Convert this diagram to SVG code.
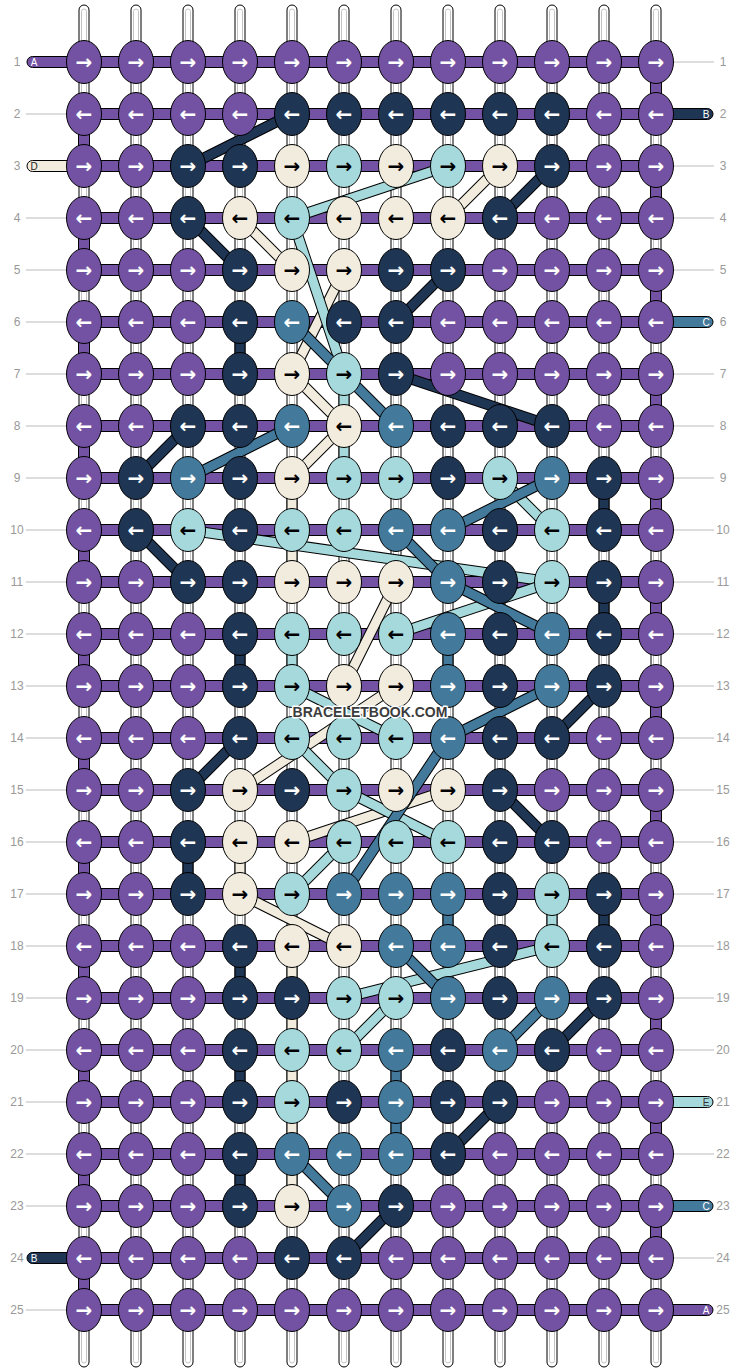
<svg xmlns="http://www.w3.org/2000/svg" width="740" height="1372" viewBox="0 0 740 1372">
<style>
.warp rect.o1{fill:#fff;stroke:#000;stroke-width:1}
.warp rect.i1{fill:none;stroke:#c4c4c4;stroke-width:1}
.bar{fill:#7452a3;stroke:#000;stroke-width:1}
.gl{stroke:#bbb;stroke-width:1}
.num{font-family:"Liberation Sans",Arial,sans-serif;font-size:12px;fill:#999;text-anchor:middle}
.pl{font-family:"Liberation Sans",Arial,sans-serif;font-size:10px;text-anchor:middle}
.pill{stroke:#000;stroke-width:1}
.fP{fill:#7452a3}.fN{fill:#1e3554}.fC{fill:#f1ecde}.fL{fill:#a6d9db}.fS{fill:#437a9b}
.conn line{fill:none;stroke-linecap:butt}
.conn .o{stroke:#000;stroke-width:11}
.conn .N{stroke:#1e3554;stroke-width:9}
.conn .C{stroke:#f1ecde;stroke-width:9}
.conn .L{stroke:#a6d9db;stroke-width:9}
.conn .S{stroke:#437a9b;stroke-width:9}
.nodes ellipse{stroke:#000;stroke-width:1}
.nodes .P ellipse{fill:#7452a3}
.nodes .N ellipse{fill:#1e3554}
.nodes .C ellipse{fill:#f1ecde}
.nodes .L ellipse{fill:#a6d9db}
.nodes .S ellipse{fill:#437a9b}
.nodes text{font-family:"DejaVu Sans",sans-serif;font-weight:bold;font-size:20px;text-anchor:middle;fill:#fff}
.nodes .C text,.nodes .L text{fill:#000}
.wm{font-family:"Liberation Sans",Arial,sans-serif;font-weight:bold;font-size:14px;text-anchor:middle;fill:#3c3c3c;stroke:#fff;stroke-width:3;stroke-linejoin:round;paint-order:stroke}
</style>
<rect width="740" height="1372" fill="#fff"/>
<g id="warps" class="warp">
<rect class="o1" x="79" y="5" width="10" height="1362" rx="5"/><rect class="i1" x="81.5" y="9" width="5" height="1354" rx="2.5"/>
<rect class="o1" x="131" y="5" width="10" height="1362" rx="5"/><rect class="i1" x="133.5" y="9" width="5" height="1354" rx="2.5"/>
<rect class="o1" x="183" y="5" width="10" height="1362" rx="5"/><rect class="i1" x="185.5" y="9" width="5" height="1354" rx="2.5"/>
<rect class="o1" x="235" y="5" width="10" height="1362" rx="5"/><rect class="i1" x="237.5" y="9" width="5" height="1354" rx="2.5"/>
<rect class="o1" x="287" y="5" width="10" height="1362" rx="5"/><rect class="i1" x="289.5" y="9" width="5" height="1354" rx="2.5"/>
<rect class="o1" x="339" y="5" width="10" height="1362" rx="5"/><rect class="i1" x="341.5" y="9" width="5" height="1354" rx="2.5"/>
<rect class="o1" x="391" y="5" width="10" height="1362" rx="5"/><rect class="i1" x="393.5" y="9" width="5" height="1354" rx="2.5"/>
<rect class="o1" x="443" y="5" width="10" height="1362" rx="5"/><rect class="i1" x="445.5" y="9" width="5" height="1354" rx="2.5"/>
<rect class="o1" x="495" y="5" width="10" height="1362" rx="5"/><rect class="i1" x="497.5" y="9" width="5" height="1354" rx="2.5"/>
<rect class="o1" x="547" y="5" width="10" height="1362" rx="5"/><rect class="i1" x="549.5" y="9" width="5" height="1354" rx="2.5"/>
<rect class="o1" x="599" y="5" width="10" height="1362" rx="5"/><rect class="i1" x="601.5" y="9" width="5" height="1354" rx="2.5"/>
<rect class="o1" x="651" y="5" width="10" height="1362" rx="5"/><rect class="i1" x="653.5" y="9" width="5" height="1354" rx="2.5"/>
</g>
<g id="labels">
<line class="gl" x1="26" y1="114" x2="67" y2="114"/><line class="gl" x1="26" y1="218" x2="67" y2="218"/><line class="gl" x1="26" y1="270" x2="67" y2="270"/><line class="gl" x1="26" y1="322" x2="67" y2="322"/><line class="gl" x1="26" y1="374" x2="67" y2="374"/><line class="gl" x1="26" y1="426" x2="67" y2="426"/><line class="gl" x1="26" y1="478" x2="67" y2="478"/><line class="gl" x1="26" y1="530" x2="67" y2="530"/><line class="gl" x1="26" y1="582" x2="67" y2="582"/><line class="gl" x1="26" y1="634" x2="67" y2="634"/><line class="gl" x1="26" y1="686" x2="67" y2="686"/><line class="gl" x1="26" y1="738" x2="67" y2="738"/><line class="gl" x1="26" y1="790" x2="67" y2="790"/><line class="gl" x1="26" y1="842" x2="67" y2="842"/><line class="gl" x1="26" y1="894" x2="67" y2="894"/><line class="gl" x1="26" y1="946" x2="67" y2="946"/><line class="gl" x1="26" y1="998" x2="67" y2="998"/><line class="gl" x1="26" y1="1050" x2="67" y2="1050"/><line class="gl" x1="26" y1="1102" x2="67" y2="1102"/><line class="gl" x1="26" y1="1154" x2="67" y2="1154"/><line class="gl" x1="26" y1="1206" x2="67" y2="1206"/><line class="gl" x1="26" y1="1310" x2="67" y2="1310"/>
<line class="gl" x1="673" y1="62" x2="714" y2="62"/><line class="gl" x1="673" y1="166" x2="714" y2="166"/><line class="gl" x1="673" y1="218" x2="714" y2="218"/><line class="gl" x1="673" y1="270" x2="714" y2="270"/><line class="gl" x1="673" y1="374" x2="714" y2="374"/><line class="gl" x1="673" y1="426" x2="714" y2="426"/><line class="gl" x1="673" y1="478" x2="714" y2="478"/><line class="gl" x1="673" y1="530" x2="714" y2="530"/><line class="gl" x1="673" y1="582" x2="714" y2="582"/><line class="gl" x1="673" y1="634" x2="714" y2="634"/><line class="gl" x1="673" y1="686" x2="714" y2="686"/><line class="gl" x1="673" y1="738" x2="714" y2="738"/><line class="gl" x1="673" y1="790" x2="714" y2="790"/><line class="gl" x1="673" y1="842" x2="714" y2="842"/><line class="gl" x1="673" y1="894" x2="714" y2="894"/><line class="gl" x1="673" y1="946" x2="714" y2="946"/><line class="gl" x1="673" y1="998" x2="714" y2="998"/><line class="gl" x1="673" y1="1050" x2="714" y2="1050"/><line class="gl" x1="673" y1="1154" x2="714" y2="1154"/><line class="gl" x1="673" y1="1258" x2="714" y2="1258"/>
<text class="num" x="17" y="66">1</text><text class="num" x="17" y="118">2</text><text class="num" x="17" y="170">3</text><text class="num" x="17" y="222">4</text><text class="num" x="17" y="274">5</text><text class="num" x="17" y="326">6</text><text class="num" x="17" y="378">7</text><text class="num" x="17" y="430">8</text><text class="num" x="17" y="482">9</text><text class="num" x="17" y="534">10</text><text class="num" x="17" y="586">11</text><text class="num" x="17" y="638">12</text><text class="num" x="17" y="690">13</text><text class="num" x="17" y="742">14</text><text class="num" x="17" y="794">15</text><text class="num" x="17" y="846">16</text><text class="num" x="17" y="898">17</text><text class="num" x="17" y="950">18</text><text class="num" x="17" y="1002">19</text><text class="num" x="17" y="1054">20</text><text class="num" x="17" y="1106">21</text><text class="num" x="17" y="1158">22</text><text class="num" x="17" y="1210">23</text><text class="num" x="17" y="1262">24</text><text class="num" x="17" y="1314">25</text>
<text class="num" x="723" y="66">1</text><text class="num" x="723" y="118">2</text><text class="num" x="723" y="170">3</text><text class="num" x="723" y="222">4</text><text class="num" x="723" y="274">5</text><text class="num" x="723" y="326">6</text><text class="num" x="723" y="378">7</text><text class="num" x="723" y="430">8</text><text class="num" x="723" y="482">9</text><text class="num" x="723" y="534">10</text><text class="num" x="723" y="586">11</text><text class="num" x="723" y="638">12</text><text class="num" x="723" y="690">13</text><text class="num" x="723" y="742">14</text><text class="num" x="723" y="794">15</text><text class="num" x="723" y="846">16</text><text class="num" x="723" y="898">17</text><text class="num" x="723" y="950">18</text><text class="num" x="723" y="1002">19</text><text class="num" x="723" y="1054">20</text><text class="num" x="723" y="1106">21</text><text class="num" x="723" y="1158">22</text><text class="num" x="723" y="1210">23</text><text class="num" x="723" y="1262">24</text><text class="num" x="723" y="1314">25</text>
</g>
<g id="strings">
<rect class="pill fP" x="27" y="56.5" width="57" height="11" rx="5.5"/>
<rect class="pill fC" x="27" y="160.5" width="57" height="11" rx="5.5"/>
<rect class="pill fN" x="27" y="1252.5" width="57" height="11" rx="5.5"/>
<rect class="pill fN" x="656" y="108.5" width="57" height="11" rx="5.5"/>
<rect class="pill fS" x="656" y="316.5" width="57" height="11" rx="5.5"/>
<rect class="pill fL" x="656" y="1096.5" width="57" height="11" rx="5.5"/>
<rect class="pill fS" x="656" y="1200.5" width="57" height="11" rx="5.5"/>
<rect class="pill fP" x="656" y="1304.5" width="57" height="11" rx="5.5"/>
<rect class="bar" x="650.5" y="62" width="11" height="52"/><rect class="bar" x="650.5" y="166" width="11" height="52"/><rect class="bar" x="650.5" y="270" width="11" height="52"/><rect class="bar" x="650.5" y="374" width="11" height="52"/><rect class="bar" x="650.5" y="478" width="11" height="52"/><rect class="bar" x="650.5" y="582" width="11" height="52"/><rect class="bar" x="650.5" y="686" width="11" height="52"/><rect class="bar" x="650.5" y="790" width="11" height="52"/><rect class="bar" x="650.5" y="894" width="11" height="52"/><rect class="bar" x="650.5" y="998" width="11" height="52"/><rect class="bar" x="650.5" y="1102" width="11" height="52"/><rect class="bar" x="650.5" y="1206" width="11" height="52"/>
<rect class="bar" x="78.5" y="114" width="11" height="52"/><rect class="bar" x="78.5" y="218" width="11" height="52"/><rect class="bar" x="78.5" y="322" width="11" height="52"/><rect class="bar" x="78.5" y="426" width="11" height="52"/><rect class="bar" x="78.5" y="530" width="11" height="52"/><rect class="bar" x="78.5" y="634" width="11" height="52"/><rect class="bar" x="78.5" y="738" width="11" height="52"/><rect class="bar" x="78.5" y="842" width="11" height="52"/><rect class="bar" x="78.5" y="946" width="11" height="52"/><rect class="bar" x="78.5" y="1050" width="11" height="52"/><rect class="bar" x="78.5" y="1154" width="11" height="52"/><rect class="bar" x="78.5" y="1258" width="11" height="52"/>
<rect class="bar" x="84" y="56.5" width="572" height="11"/><rect class="bar" x="84" y="108.5" width="572" height="11"/><rect class="bar" x="84" y="160.5" width="572" height="11"/><rect class="bar" x="84" y="212.5" width="572" height="11"/><rect class="bar" x="84" y="264.5" width="572" height="11"/><rect class="bar" x="84" y="316.5" width="572" height="11"/><rect class="bar" x="84" y="368.5" width="572" height="11"/><rect class="bar" x="84" y="420.5" width="572" height="11"/><rect class="bar" x="84" y="472.5" width="572" height="11"/><rect class="bar" x="84" y="524.5" width="572" height="11"/><rect class="bar" x="84" y="576.5" width="572" height="11"/><rect class="bar" x="84" y="628.5" width="572" height="11"/><rect class="bar" x="84" y="680.5" width="572" height="11"/><rect class="bar" x="84" y="732.5" width="572" height="11"/><rect class="bar" x="84" y="784.5" width="572" height="11"/><rect class="bar" x="84" y="836.5" width="572" height="11"/><rect class="bar" x="84" y="888.5" width="572" height="11"/><rect class="bar" x="84" y="940.5" width="572" height="11"/><rect class="bar" x="84" y="992.5" width="572" height="11"/><rect class="bar" x="84" y="1044.5" width="572" height="11"/><rect class="bar" x="84" y="1096.5" width="572" height="11"/><rect class="bar" x="84" y="1148.5" width="572" height="11"/><rect class="bar" x="84" y="1200.5" width="572" height="11"/><rect class="bar" x="84" y="1252.5" width="572" height="11"/><rect class="bar" x="84" y="1304.5" width="572" height="11"/>
<text class="pl" x="34" y="66" fill="#fff">A</text><text class="pl" x="34" y="170" fill="#222">D</text><text class="pl" x="34" y="1262" fill="#fff">B</text>
<text class="pl" x="706" y="118" fill="#fff">B</text><text class="pl" x="706" y="326" fill="#fff">C</text><text class="pl" x="706" y="1106" fill="#333">E</text><text class="pl" x="706" y="1210" fill="#fff">C</text><text class="pl" x="706" y="1314" fill="#fff">A</text>
</g>
<g id="connectors" class="conn">
<line class="o" x1="292" y1="114" x2="188" y2="166"/><line class="N" x1="292" y1="114" x2="188" y2="166"/>
<line class="o" x1="552" y1="166" x2="500" y2="218"/><line class="N" x1="552" y1="166" x2="500" y2="218"/>
<line class="o" x1="188" y1="218" x2="240" y2="270"/><line class="N" x1="188" y1="218" x2="240" y2="270"/>
<line class="o" x1="448" y1="270" x2="396" y2="322"/><line class="N" x1="448" y1="270" x2="396" y2="322"/>
<line class="o" x1="240" y1="322" x2="240" y2="374"/><line class="N" x1="240" y1="322" x2="240" y2="374"/>
<line class="o" x1="396" y1="374" x2="552" y2="426"/><line class="N" x1="396" y1="374" x2="552" y2="426"/>
<line class="o" x1="188" y1="426" x2="136" y2="478"/><line class="N" x1="188" y1="426" x2="136" y2="478"/>
<line class="o" x1="136" y1="530" x2="188" y2="582"/><line class="N" x1="136" y1="530" x2="188" y2="582"/>
<line class="o" x1="604" y1="478" x2="604" y2="530"/><line class="N" x1="604" y1="478" x2="604" y2="530"/>
<line class="o" x1="604" y1="582" x2="604" y2="634"/><line class="N" x1="604" y1="582" x2="604" y2="634"/>
<line class="o" x1="240" y1="634" x2="240" y2="686"/><line class="N" x1="240" y1="634" x2="240" y2="686"/>
<line class="o" x1="604" y1="686" x2="552" y2="738"/><line class="N" x1="604" y1="686" x2="552" y2="738"/>
<line class="o" x1="240" y1="738" x2="188" y2="790"/><line class="N" x1="240" y1="738" x2="188" y2="790"/>
<line class="o" x1="500" y1="790" x2="552" y2="842"/><line class="N" x1="500" y1="790" x2="552" y2="842"/>
<line class="o" x1="188" y1="842" x2="188" y2="894"/><line class="N" x1="188" y1="842" x2="188" y2="894"/>
<line class="o" x1="604" y1="894" x2="604" y2="946"/><line class="N" x1="604" y1="894" x2="604" y2="946"/>
<line class="o" x1="240" y1="946" x2="240" y2="998"/><line class="N" x1="240" y1="946" x2="240" y2="998"/>
<line class="o" x1="604" y1="998" x2="552" y2="1050"/><line class="N" x1="604" y1="998" x2="552" y2="1050"/>
<line class="o" x1="240" y1="1050" x2="240" y2="1102"/><line class="N" x1="240" y1="1050" x2="240" y2="1102"/>
<line class="o" x1="500" y1="1102" x2="448" y2="1154"/><line class="N" x1="500" y1="1102" x2="448" y2="1154"/>
<line class="o" x1="240" y1="1154" x2="240" y2="1206"/><line class="N" x1="240" y1="1154" x2="240" y2="1206"/>
<line class="o" x1="396" y1="1206" x2="344" y2="1258"/><line class="N" x1="396" y1="1206" x2="344" y2="1258"/>
<line class="o" x1="500" y1="166" x2="448" y2="218"/><line class="C" x1="500" y1="166" x2="448" y2="218"/>
<line class="o" x1="240" y1="218" x2="292" y2="270"/><line class="C" x1="240" y1="218" x2="292" y2="270"/>
<line class="o" x1="344" y1="270" x2="292" y2="374"/><line class="C" x1="344" y1="270" x2="292" y2="374"/>
<line class="o" x1="292" y1="374" x2="344" y2="426"/><line class="C" x1="292" y1="374" x2="344" y2="426"/>
<line class="o" x1="344" y1="426" x2="292" y2="478"/><line class="C" x1="344" y1="426" x2="292" y2="478"/>
<line class="o" x1="292" y1="478" x2="292" y2="582"/><line class="C" x1="292" y1="478" x2="292" y2="582"/>
<line class="o" x1="396" y1="582" x2="344" y2="686"/><line class="C" x1="396" y1="582" x2="344" y2="686"/>
<line class="o" x1="396" y1="686" x2="240" y2="790"/><line class="C" x1="396" y1="686" x2="240" y2="790"/>
<line class="o" x1="448" y1="790" x2="292" y2="842"/><line class="C" x1="448" y1="790" x2="292" y2="842"/>
<line class="o" x1="240" y1="842" x2="240" y2="894"/><line class="C" x1="240" y1="842" x2="240" y2="894"/>
<line class="o" x1="240" y1="894" x2="344" y2="946"/><line class="C" x1="240" y1="894" x2="344" y2="946"/>
<line class="o" x1="292" y1="946" x2="292" y2="1206"/><line class="C" x1="292" y1="946" x2="292" y2="1206"/>
<line class="o" x1="448" y1="166" x2="292" y2="218"/><line class="L" x1="448" y1="166" x2="292" y2="218"/>
<line class="o" x1="292" y1="218" x2="344" y2="374"/><line class="L" x1="292" y1="218" x2="344" y2="374"/>
<line class="o" x1="344" y1="374" x2="344" y2="478"/><line class="L" x1="344" y1="374" x2="344" y2="478"/>
<line class="o" x1="500" y1="478" x2="552" y2="530"/><line class="L" x1="500" y1="478" x2="552" y2="530"/>
<line class="o" x1="188" y1="530" x2="552" y2="582"/><line class="L" x1="188" y1="530" x2="552" y2="582"/>
<line class="o" x1="552" y1="582" x2="396" y2="634"/><line class="L" x1="552" y1="582" x2="396" y2="634"/>
<line class="o" x1="292" y1="634" x2="292" y2="686"/><line class="L" x1="292" y1="634" x2="292" y2="686"/>
<line class="o" x1="292" y1="686" x2="396" y2="738"/><line class="L" x1="292" y1="686" x2="396" y2="738"/>
<line class="o" x1="292" y1="738" x2="344" y2="790"/><line class="L" x1="292" y1="738" x2="344" y2="790"/>
<line class="o" x1="344" y1="790" x2="448" y2="842"/><line class="L" x1="344" y1="790" x2="448" y2="842"/>
<line class="o" x1="344" y1="842" x2="292" y2="894"/><line class="L" x1="344" y1="842" x2="292" y2="894"/>
<line class="o" x1="552" y1="894" x2="552" y2="946"/><line class="L" x1="552" y1="894" x2="552" y2="946"/>
<line class="o" x1="552" y1="946" x2="344" y2="998"/><line class="L" x1="552" y1="946" x2="344" y2="998"/>
<line class="o" x1="396" y1="998" x2="344" y2="1050"/><line class="L" x1="396" y1="998" x2="344" y2="1050"/>
<line class="o" x1="292" y1="322" x2="396" y2="426"/><line class="S" x1="292" y1="322" x2="396" y2="426"/>
<line class="o" x1="292" y1="426" x2="188" y2="478"/><line class="S" x1="292" y1="426" x2="188" y2="478"/>
<line class="o" x1="552" y1="478" x2="448" y2="530"/><line class="S" x1="552" y1="478" x2="448" y2="530"/>
<line class="o" x1="396" y1="530" x2="448" y2="582"/><line class="S" x1="396" y1="530" x2="448" y2="582"/>
<line class="o" x1="448" y1="582" x2="552" y2="634"/><line class="S" x1="448" y1="582" x2="552" y2="634"/>
<line class="o" x1="448" y1="634" x2="448" y2="686"/><line class="S" x1="448" y1="634" x2="448" y2="686"/>
<line class="o" x1="552" y1="686" x2="448" y2="738"/><line class="S" x1="552" y1="686" x2="448" y2="738"/>
<line class="o" x1="448" y1="738" x2="344" y2="894"/><line class="S" x1="448" y1="738" x2="344" y2="894"/>
<line class="o" x1="448" y1="894" x2="448" y2="946"/><line class="S" x1="448" y1="894" x2="448" y2="946"/>
<line class="o" x1="396" y1="946" x2="448" y2="998"/><line class="S" x1="396" y1="946" x2="448" y2="998"/>
<line class="o" x1="552" y1="998" x2="500" y2="1050"/><line class="S" x1="552" y1="998" x2="500" y2="1050"/>
<line class="o" x1="396" y1="1050" x2="396" y2="1154"/><line class="S" x1="396" y1="1050" x2="396" y2="1154"/>
<line class="o" x1="292" y1="1154" x2="344" y2="1206"/><line class="S" x1="292" y1="1154" x2="344" y2="1206"/>
</g>
<g id="nodes" class="nodes">
<g id="n1-1" class="P"><ellipse cx="84" cy="62" rx="17.5" ry="21.5"/><text x="84" y="69">→</text></g>
<g id="n1-2" class="P"><ellipse cx="136" cy="62" rx="17.5" ry="21.5"/><text x="136" y="69">→</text></g>
<g id="n1-3" class="P"><ellipse cx="188" cy="62" rx="17.5" ry="21.5"/><text x="188" y="69">→</text></g>
<g id="n1-4" class="P"><ellipse cx="240" cy="62" rx="17.5" ry="21.5"/><text x="240" y="69">→</text></g>
<g id="n1-5" class="P"><ellipse cx="292" cy="62" rx="17.5" ry="21.5"/><text x="292" y="69">→</text></g>
<g id="n1-6" class="P"><ellipse cx="344" cy="62" rx="17.5" ry="21.5"/><text x="344" y="69">→</text></g>
<g id="n1-7" class="P"><ellipse cx="396" cy="62" rx="17.5" ry="21.5"/><text x="396" y="69">→</text></g>
<g id="n1-8" class="P"><ellipse cx="448" cy="62" rx="17.5" ry="21.5"/><text x="448" y="69">→</text></g>
<g id="n1-9" class="P"><ellipse cx="500" cy="62" rx="17.5" ry="21.5"/><text x="500" y="69">→</text></g>
<g id="n1-10" class="P"><ellipse cx="552" cy="62" rx="17.5" ry="21.5"/><text x="552" y="69">→</text></g>
<g id="n1-11" class="P"><ellipse cx="604" cy="62" rx="17.5" ry="21.5"/><text x="604" y="69">→</text></g>
<g id="n1-12" class="P"><ellipse cx="656" cy="62" rx="17.5" ry="21.5"/><text x="656" y="69">→</text></g>
<g id="n2-1" class="P"><ellipse cx="84" cy="114" rx="17.5" ry="21.5"/><text x="84" y="121">←</text></g>
<g id="n2-2" class="P"><ellipse cx="136" cy="114" rx="17.5" ry="21.5"/><text x="136" y="121">←</text></g>
<g id="n2-3" class="P"><ellipse cx="188" cy="114" rx="17.5" ry="21.5"/><text x="188" y="121">←</text></g>
<g id="n2-4" class="P"><ellipse cx="240" cy="114" rx="17.5" ry="21.5"/><text x="240" y="121">←</text></g>
<g id="n2-5" class="N"><ellipse cx="292" cy="114" rx="17.5" ry="21.5"/><text x="292" y="121">←</text></g>
<g id="n2-6" class="N"><ellipse cx="344" cy="114" rx="17.5" ry="21.5"/><text x="344" y="121">←</text></g>
<g id="n2-7" class="N"><ellipse cx="396" cy="114" rx="17.5" ry="21.5"/><text x="396" y="121">←</text></g>
<g id="n2-8" class="N"><ellipse cx="448" cy="114" rx="17.5" ry="21.5"/><text x="448" y="121">←</text></g>
<g id="n2-9" class="N"><ellipse cx="500" cy="114" rx="17.5" ry="21.5"/><text x="500" y="121">←</text></g>
<g id="n2-10" class="N"><ellipse cx="552" cy="114" rx="17.5" ry="21.5"/><text x="552" y="121">←</text></g>
<g id="n2-11" class="P"><ellipse cx="604" cy="114" rx="17.5" ry="21.5"/><text x="604" y="121">←</text></g>
<g id="n2-12" class="P"><ellipse cx="656" cy="114" rx="17.5" ry="21.5"/><text x="656" y="121">←</text></g>
<g id="n3-1" class="P"><ellipse cx="84" cy="166" rx="17.5" ry="21.5"/><text x="84" y="173">→</text></g>
<g id="n3-2" class="P"><ellipse cx="136" cy="166" rx="17.5" ry="21.5"/><text x="136" y="173">→</text></g>
<g id="n3-3" class="N"><ellipse cx="188" cy="166" rx="17.5" ry="21.5"/><text x="188" y="173">→</text></g>
<g id="n3-4" class="N"><ellipse cx="240" cy="166" rx="17.5" ry="21.5"/><text x="240" y="173">→</text></g>
<g id="n3-5" class="C"><ellipse cx="292" cy="166" rx="17.5" ry="21.5"/><text x="292" y="173">→</text></g>
<g id="n3-6" class="L"><ellipse cx="344" cy="166" rx="17.5" ry="21.5"/><text x="344" y="173">→</text></g>
<g id="n3-7" class="C"><ellipse cx="396" cy="166" rx="17.5" ry="21.5"/><text x="396" y="173">→</text></g>
<g id="n3-8" class="L"><ellipse cx="448" cy="166" rx="17.5" ry="21.5"/><text x="448" y="173">→</text></g>
<g id="n3-9" class="C"><ellipse cx="500" cy="166" rx="17.5" ry="21.5"/><text x="500" y="173">→</text></g>
<g id="n3-10" class="N"><ellipse cx="552" cy="166" rx="17.5" ry="21.5"/><text x="552" y="173">→</text></g>
<g id="n3-11" class="P"><ellipse cx="604" cy="166" rx="17.5" ry="21.5"/><text x="604" y="173">→</text></g>
<g id="n3-12" class="P"><ellipse cx="656" cy="166" rx="17.5" ry="21.5"/><text x="656" y="173">→</text></g>
<g id="n4-1" class="P"><ellipse cx="84" cy="218" rx="17.5" ry="21.5"/><text x="84" y="225">←</text></g>
<g id="n4-2" class="P"><ellipse cx="136" cy="218" rx="17.5" ry="21.5"/><text x="136" y="225">←</text></g>
<g id="n4-3" class="N"><ellipse cx="188" cy="218" rx="17.5" ry="21.5"/><text x="188" y="225">←</text></g>
<g id="n4-4" class="C"><ellipse cx="240" cy="218" rx="17.5" ry="21.5"/><text x="240" y="225">←</text></g>
<g id="n4-5" class="L"><ellipse cx="292" cy="218" rx="17.5" ry="21.5"/><text x="292" y="225">←</text></g>
<g id="n4-6" class="C"><ellipse cx="344" cy="218" rx="17.5" ry="21.5"/><text x="344" y="225">←</text></g>
<g id="n4-7" class="C"><ellipse cx="396" cy="218" rx="17.5" ry="21.5"/><text x="396" y="225">←</text></g>
<g id="n4-8" class="C"><ellipse cx="448" cy="218" rx="17.5" ry="21.5"/><text x="448" y="225">←</text></g>
<g id="n4-9" class="N"><ellipse cx="500" cy="218" rx="17.5" ry="21.5"/><text x="500" y="225">←</text></g>
<g id="n4-10" class="P"><ellipse cx="552" cy="218" rx="17.5" ry="21.5"/><text x="552" y="225">←</text></g>
<g id="n4-11" class="P"><ellipse cx="604" cy="218" rx="17.5" ry="21.5"/><text x="604" y="225">←</text></g>
<g id="n4-12" class="P"><ellipse cx="656" cy="218" rx="17.5" ry="21.5"/><text x="656" y="225">←</text></g>
<g id="n5-1" class="P"><ellipse cx="84" cy="270" rx="17.5" ry="21.5"/><text x="84" y="277">→</text></g>
<g id="n5-2" class="P"><ellipse cx="136" cy="270" rx="17.5" ry="21.5"/><text x="136" y="277">→</text></g>
<g id="n5-3" class="P"><ellipse cx="188" cy="270" rx="17.5" ry="21.5"/><text x="188" y="277">→</text></g>
<g id="n5-4" class="N"><ellipse cx="240" cy="270" rx="17.5" ry="21.5"/><text x="240" y="277">→</text></g>
<g id="n5-5" class="C"><ellipse cx="292" cy="270" rx="17.5" ry="21.5"/><text x="292" y="277">→</text></g>
<g id="n5-6" class="C"><ellipse cx="344" cy="270" rx="17.5" ry="21.5"/><text x="344" y="277">→</text></g>
<g id="n5-7" class="N"><ellipse cx="396" cy="270" rx="17.5" ry="21.5"/><text x="396" y="277">→</text></g>
<g id="n5-8" class="N"><ellipse cx="448" cy="270" rx="17.5" ry="21.5"/><text x="448" y="277">→</text></g>
<g id="n5-9" class="P"><ellipse cx="500" cy="270" rx="17.5" ry="21.5"/><text x="500" y="277">→</text></g>
<g id="n5-10" class="P"><ellipse cx="552" cy="270" rx="17.5" ry="21.5"/><text x="552" y="277">→</text></g>
<g id="n5-11" class="P"><ellipse cx="604" cy="270" rx="17.5" ry="21.5"/><text x="604" y="277">→</text></g>
<g id="n5-12" class="P"><ellipse cx="656" cy="270" rx="17.5" ry="21.5"/><text x="656" y="277">→</text></g>
<g id="n6-1" class="P"><ellipse cx="84" cy="322" rx="17.5" ry="21.5"/><text x="84" y="329">←</text></g>
<g id="n6-2" class="P"><ellipse cx="136" cy="322" rx="17.5" ry="21.5"/><text x="136" y="329">←</text></g>
<g id="n6-3" class="P"><ellipse cx="188" cy="322" rx="17.5" ry="21.5"/><text x="188" y="329">←</text></g>
<g id="n6-4" class="N"><ellipse cx="240" cy="322" rx="17.5" ry="21.5"/><text x="240" y="329">←</text></g>
<g id="n6-5" class="S"><ellipse cx="292" cy="322" rx="17.5" ry="21.5"/><text x="292" y="329">←</text></g>
<g id="n6-6" class="N"><ellipse cx="344" cy="322" rx="17.5" ry="21.5"/><text x="344" y="329">←</text></g>
<g id="n6-7" class="N"><ellipse cx="396" cy="322" rx="17.5" ry="21.5"/><text x="396" y="329">←</text></g>
<g id="n6-8" class="P"><ellipse cx="448" cy="322" rx="17.5" ry="21.5"/><text x="448" y="329">←</text></g>
<g id="n6-9" class="P"><ellipse cx="500" cy="322" rx="17.5" ry="21.5"/><text x="500" y="329">←</text></g>
<g id="n6-10" class="P"><ellipse cx="552" cy="322" rx="17.5" ry="21.5"/><text x="552" y="329">←</text></g>
<g id="n6-11" class="P"><ellipse cx="604" cy="322" rx="17.5" ry="21.5"/><text x="604" y="329">←</text></g>
<g id="n6-12" class="P"><ellipse cx="656" cy="322" rx="17.5" ry="21.5"/><text x="656" y="329">←</text></g>
<g id="n7-1" class="P"><ellipse cx="84" cy="374" rx="17.5" ry="21.5"/><text x="84" y="381">→</text></g>
<g id="n7-2" class="P"><ellipse cx="136" cy="374" rx="17.5" ry="21.5"/><text x="136" y="381">→</text></g>
<g id="n7-3" class="P"><ellipse cx="188" cy="374" rx="17.5" ry="21.5"/><text x="188" y="381">→</text></g>
<g id="n7-4" class="N"><ellipse cx="240" cy="374" rx="17.5" ry="21.5"/><text x="240" y="381">→</text></g>
<g id="n7-5" class="C"><ellipse cx="292" cy="374" rx="17.5" ry="21.5"/><text x="292" y="381">→</text></g>
<g id="n7-6" class="L"><ellipse cx="344" cy="374" rx="17.5" ry="21.5"/><text x="344" y="381">→</text></g>
<g id="n7-7" class="N"><ellipse cx="396" cy="374" rx="17.5" ry="21.5"/><text x="396" y="381">→</text></g>
<g id="n7-8" class="P"><ellipse cx="448" cy="374" rx="17.5" ry="21.5"/><text x="448" y="381">→</text></g>
<g id="n7-9" class="P"><ellipse cx="500" cy="374" rx="17.5" ry="21.5"/><text x="500" y="381">→</text></g>
<g id="n7-10" class="P"><ellipse cx="552" cy="374" rx="17.5" ry="21.5"/><text x="552" y="381">→</text></g>
<g id="n7-11" class="P"><ellipse cx="604" cy="374" rx="17.5" ry="21.5"/><text x="604" y="381">→</text></g>
<g id="n7-12" class="P"><ellipse cx="656" cy="374" rx="17.5" ry="21.5"/><text x="656" y="381">→</text></g>
<g id="n8-1" class="P"><ellipse cx="84" cy="426" rx="17.5" ry="21.5"/><text x="84" y="433">←</text></g>
<g id="n8-2" class="P"><ellipse cx="136" cy="426" rx="17.5" ry="21.5"/><text x="136" y="433">←</text></g>
<g id="n8-3" class="N"><ellipse cx="188" cy="426" rx="17.5" ry="21.5"/><text x="188" y="433">←</text></g>
<g id="n8-4" class="N"><ellipse cx="240" cy="426" rx="17.5" ry="21.5"/><text x="240" y="433">←</text></g>
<g id="n8-5" class="S"><ellipse cx="292" cy="426" rx="17.5" ry="21.5"/><text x="292" y="433">←</text></g>
<g id="n8-6" class="C"><ellipse cx="344" cy="426" rx="17.5" ry="21.5"/><text x="344" y="433">←</text></g>
<g id="n8-7" class="S"><ellipse cx="396" cy="426" rx="17.5" ry="21.5"/><text x="396" y="433">←</text></g>
<g id="n8-8" class="N"><ellipse cx="448" cy="426" rx="17.5" ry="21.5"/><text x="448" y="433">←</text></g>
<g id="n8-9" class="N"><ellipse cx="500" cy="426" rx="17.5" ry="21.5"/><text x="500" y="433">←</text></g>
<g id="n8-10" class="N"><ellipse cx="552" cy="426" rx="17.5" ry="21.5"/><text x="552" y="433">←</text></g>
<g id="n8-11" class="P"><ellipse cx="604" cy="426" rx="17.5" ry="21.5"/><text x="604" y="433">←</text></g>
<g id="n8-12" class="P"><ellipse cx="656" cy="426" rx="17.5" ry="21.5"/><text x="656" y="433">←</text></g>
<g id="n9-1" class="P"><ellipse cx="84" cy="478" rx="17.5" ry="21.5"/><text x="84" y="485">→</text></g>
<g id="n9-2" class="N"><ellipse cx="136" cy="478" rx="17.5" ry="21.5"/><text x="136" y="485">→</text></g>
<g id="n9-3" class="S"><ellipse cx="188" cy="478" rx="17.5" ry="21.5"/><text x="188" y="485">→</text></g>
<g id="n9-4" class="N"><ellipse cx="240" cy="478" rx="17.5" ry="21.5"/><text x="240" y="485">→</text></g>
<g id="n9-5" class="C"><ellipse cx="292" cy="478" rx="17.5" ry="21.5"/><text x="292" y="485">→</text></g>
<g id="n9-6" class="L"><ellipse cx="344" cy="478" rx="17.5" ry="21.5"/><text x="344" y="485">→</text></g>
<g id="n9-7" class="L"><ellipse cx="396" cy="478" rx="17.5" ry="21.5"/><text x="396" y="485">→</text></g>
<g id="n9-8" class="N"><ellipse cx="448" cy="478" rx="17.5" ry="21.5"/><text x="448" y="485">→</text></g>
<g id="n9-9" class="L"><ellipse cx="500" cy="478" rx="17.5" ry="21.5"/><text x="500" y="485">→</text></g>
<g id="n9-10" class="S"><ellipse cx="552" cy="478" rx="17.5" ry="21.5"/><text x="552" y="485">→</text></g>
<g id="n9-11" class="N"><ellipse cx="604" cy="478" rx="17.5" ry="21.5"/><text x="604" y="485">→</text></g>
<g id="n9-12" class="P"><ellipse cx="656" cy="478" rx="17.5" ry="21.5"/><text x="656" y="485">→</text></g>
<g id="n10-1" class="P"><ellipse cx="84" cy="530" rx="17.5" ry="21.5"/><text x="84" y="537">←</text></g>
<g id="n10-2" class="N"><ellipse cx="136" cy="530" rx="17.5" ry="21.5"/><text x="136" y="537">←</text></g>
<g id="n10-3" class="L"><ellipse cx="188" cy="530" rx="17.5" ry="21.5"/><text x="188" y="537">←</text></g>
<g id="n10-4" class="N"><ellipse cx="240" cy="530" rx="17.5" ry="21.5"/><text x="240" y="537">←</text></g>
<g id="n10-5" class="L"><ellipse cx="292" cy="530" rx="17.5" ry="21.5"/><text x="292" y="537">←</text></g>
<g id="n10-6" class="L"><ellipse cx="344" cy="530" rx="17.5" ry="21.5"/><text x="344" y="537">←</text></g>
<g id="n10-7" class="S"><ellipse cx="396" cy="530" rx="17.5" ry="21.5"/><text x="396" y="537">←</text></g>
<g id="n10-8" class="S"><ellipse cx="448" cy="530" rx="17.5" ry="21.5"/><text x="448" y="537">←</text></g>
<g id="n10-9" class="N"><ellipse cx="500" cy="530" rx="17.5" ry="21.5"/><text x="500" y="537">←</text></g>
<g id="n10-10" class="L"><ellipse cx="552" cy="530" rx="17.5" ry="21.5"/><text x="552" y="537">←</text></g>
<g id="n10-11" class="N"><ellipse cx="604" cy="530" rx="17.5" ry="21.5"/><text x="604" y="537">←</text></g>
<g id="n10-12" class="P"><ellipse cx="656" cy="530" rx="17.5" ry="21.5"/><text x="656" y="537">←</text></g>
<g id="n11-1" class="P"><ellipse cx="84" cy="582" rx="17.5" ry="21.5"/><text x="84" y="589">→</text></g>
<g id="n11-2" class="P"><ellipse cx="136" cy="582" rx="17.5" ry="21.5"/><text x="136" y="589">→</text></g>
<g id="n11-3" class="N"><ellipse cx="188" cy="582" rx="17.5" ry="21.5"/><text x="188" y="589">→</text></g>
<g id="n11-4" class="N"><ellipse cx="240" cy="582" rx="17.5" ry="21.5"/><text x="240" y="589">→</text></g>
<g id="n11-5" class="C"><ellipse cx="292" cy="582" rx="17.5" ry="21.5"/><text x="292" y="589">→</text></g>
<g id="n11-6" class="C"><ellipse cx="344" cy="582" rx="17.5" ry="21.5"/><text x="344" y="589">→</text></g>
<g id="n11-7" class="C"><ellipse cx="396" cy="582" rx="17.5" ry="21.5"/><text x="396" y="589">→</text></g>
<g id="n11-8" class="S"><ellipse cx="448" cy="582" rx="17.5" ry="21.5"/><text x="448" y="589">→</text></g>
<g id="n11-9" class="N"><ellipse cx="500" cy="582" rx="17.5" ry="21.5"/><text x="500" y="589">→</text></g>
<g id="n11-10" class="L"><ellipse cx="552" cy="582" rx="17.5" ry="21.5"/><text x="552" y="589">→</text></g>
<g id="n11-11" class="N"><ellipse cx="604" cy="582" rx="17.5" ry="21.5"/><text x="604" y="589">→</text></g>
<g id="n11-12" class="P"><ellipse cx="656" cy="582" rx="17.5" ry="21.5"/><text x="656" y="589">→</text></g>
<g id="n12-1" class="P"><ellipse cx="84" cy="634" rx="17.5" ry="21.5"/><text x="84" y="641">←</text></g>
<g id="n12-2" class="P"><ellipse cx="136" cy="634" rx="17.5" ry="21.5"/><text x="136" y="641">←</text></g>
<g id="n12-3" class="P"><ellipse cx="188" cy="634" rx="17.5" ry="21.5"/><text x="188" y="641">←</text></g>
<g id="n12-4" class="N"><ellipse cx="240" cy="634" rx="17.5" ry="21.5"/><text x="240" y="641">←</text></g>
<g id="n12-5" class="L"><ellipse cx="292" cy="634" rx="17.5" ry="21.5"/><text x="292" y="641">←</text></g>
<g id="n12-6" class="L"><ellipse cx="344" cy="634" rx="17.5" ry="21.5"/><text x="344" y="641">←</text></g>
<g id="n12-7" class="L"><ellipse cx="396" cy="634" rx="17.5" ry="21.5"/><text x="396" y="641">←</text></g>
<g id="n12-8" class="S"><ellipse cx="448" cy="634" rx="17.5" ry="21.5"/><text x="448" y="641">←</text></g>
<g id="n12-9" class="N"><ellipse cx="500" cy="634" rx="17.5" ry="21.5"/><text x="500" y="641">←</text></g>
<g id="n12-10" class="S"><ellipse cx="552" cy="634" rx="17.5" ry="21.5"/><text x="552" y="641">←</text></g>
<g id="n12-11" class="N"><ellipse cx="604" cy="634" rx="17.5" ry="21.5"/><text x="604" y="641">←</text></g>
<g id="n12-12" class="P"><ellipse cx="656" cy="634" rx="17.5" ry="21.5"/><text x="656" y="641">←</text></g>
<g id="n13-1" class="P"><ellipse cx="84" cy="686" rx="17.5" ry="21.5"/><text x="84" y="693">→</text></g>
<g id="n13-2" class="P"><ellipse cx="136" cy="686" rx="17.5" ry="21.5"/><text x="136" y="693">→</text></g>
<g id="n13-3" class="P"><ellipse cx="188" cy="686" rx="17.5" ry="21.5"/><text x="188" y="693">→</text></g>
<g id="n13-4" class="N"><ellipse cx="240" cy="686" rx="17.5" ry="21.5"/><text x="240" y="693">→</text></g>
<g id="n13-5" class="L"><ellipse cx="292" cy="686" rx="17.5" ry="21.5"/><text x="292" y="693">→</text></g>
<g id="n13-6" class="C"><ellipse cx="344" cy="686" rx="17.5" ry="21.5"/><text x="344" y="693">→</text></g>
<g id="n13-7" class="C"><ellipse cx="396" cy="686" rx="17.5" ry="21.5"/><text x="396" y="693">→</text></g>
<g id="n13-8" class="S"><ellipse cx="448" cy="686" rx="17.5" ry="21.5"/><text x="448" y="693">→</text></g>
<g id="n13-9" class="N"><ellipse cx="500" cy="686" rx="17.5" ry="21.5"/><text x="500" y="693">→</text></g>
<g id="n13-10" class="S"><ellipse cx="552" cy="686" rx="17.5" ry="21.5"/><text x="552" y="693">→</text></g>
<g id="n13-11" class="N"><ellipse cx="604" cy="686" rx="17.5" ry="21.5"/><text x="604" y="693">→</text></g>
<g id="n13-12" class="P"><ellipse cx="656" cy="686" rx="17.5" ry="21.5"/><text x="656" y="693">→</text></g>
<g id="n14-1" class="P"><ellipse cx="84" cy="738" rx="17.5" ry="21.5"/><text x="84" y="745">←</text></g>
<g id="n14-2" class="P"><ellipse cx="136" cy="738" rx="17.5" ry="21.5"/><text x="136" y="745">←</text></g>
<g id="n14-3" class="P"><ellipse cx="188" cy="738" rx="17.5" ry="21.5"/><text x="188" y="745">←</text></g>
<g id="n14-4" class="N"><ellipse cx="240" cy="738" rx="17.5" ry="21.5"/><text x="240" y="745">←</text></g>
<g id="n14-5" class="L"><ellipse cx="292" cy="738" rx="17.5" ry="21.5"/><text x="292" y="745">←</text></g>
<g id="n14-6" class="L"><ellipse cx="344" cy="738" rx="17.5" ry="21.5"/><text x="344" y="745">←</text></g>
<g id="n14-7" class="L"><ellipse cx="396" cy="738" rx="17.5" ry="21.5"/><text x="396" y="745">←</text></g>
<g id="n14-8" class="S"><ellipse cx="448" cy="738" rx="17.5" ry="21.5"/><text x="448" y="745">←</text></g>
<g id="n14-9" class="N"><ellipse cx="500" cy="738" rx="17.5" ry="21.5"/><text x="500" y="745">←</text></g>
<g id="n14-10" class="N"><ellipse cx="552" cy="738" rx="17.5" ry="21.5"/><text x="552" y="745">←</text></g>
<g id="n14-11" class="P"><ellipse cx="604" cy="738" rx="17.5" ry="21.5"/><text x="604" y="745">←</text></g>
<g id="n14-12" class="P"><ellipse cx="656" cy="738" rx="17.5" ry="21.5"/><text x="656" y="745">←</text></g>
<g id="n15-1" class="P"><ellipse cx="84" cy="790" rx="17.5" ry="21.5"/><text x="84" y="797">→</text></g>
<g id="n15-2" class="P"><ellipse cx="136" cy="790" rx="17.5" ry="21.5"/><text x="136" y="797">→</text></g>
<g id="n15-3" class="N"><ellipse cx="188" cy="790" rx="17.5" ry="21.5"/><text x="188" y="797">→</text></g>
<g id="n15-4" class="C"><ellipse cx="240" cy="790" rx="17.5" ry="21.5"/><text x="240" y="797">→</text></g>
<g id="n15-5" class="N"><ellipse cx="292" cy="790" rx="17.5" ry="21.5"/><text x="292" y="797">→</text></g>
<g id="n15-6" class="L"><ellipse cx="344" cy="790" rx="17.5" ry="21.5"/><text x="344" y="797">→</text></g>
<g id="n15-7" class="C"><ellipse cx="396" cy="790" rx="17.5" ry="21.5"/><text x="396" y="797">→</text></g>
<g id="n15-8" class="C"><ellipse cx="448" cy="790" rx="17.5" ry="21.5"/><text x="448" y="797">→</text></g>
<g id="n15-9" class="N"><ellipse cx="500" cy="790" rx="17.5" ry="21.5"/><text x="500" y="797">→</text></g>
<g id="n15-10" class="P"><ellipse cx="552" cy="790" rx="17.5" ry="21.5"/><text x="552" y="797">→</text></g>
<g id="n15-11" class="P"><ellipse cx="604" cy="790" rx="17.5" ry="21.5"/><text x="604" y="797">→</text></g>
<g id="n15-12" class="P"><ellipse cx="656" cy="790" rx="17.5" ry="21.5"/><text x="656" y="797">→</text></g>
<g id="n16-1" class="P"><ellipse cx="84" cy="842" rx="17.5" ry="21.5"/><text x="84" y="849">←</text></g>
<g id="n16-2" class="P"><ellipse cx="136" cy="842" rx="17.5" ry="21.5"/><text x="136" y="849">←</text></g>
<g id="n16-3" class="N"><ellipse cx="188" cy="842" rx="17.5" ry="21.5"/><text x="188" y="849">←</text></g>
<g id="n16-4" class="C"><ellipse cx="240" cy="842" rx="17.5" ry="21.5"/><text x="240" y="849">←</text></g>
<g id="n16-5" class="C"><ellipse cx="292" cy="842" rx="17.5" ry="21.5"/><text x="292" y="849">←</text></g>
<g id="n16-6" class="L"><ellipse cx="344" cy="842" rx="17.5" ry="21.5"/><text x="344" y="849">←</text></g>
<g id="n16-7" class="L"><ellipse cx="396" cy="842" rx="17.5" ry="21.5"/><text x="396" y="849">←</text></g>
<g id="n16-8" class="L"><ellipse cx="448" cy="842" rx="17.5" ry="21.5"/><text x="448" y="849">←</text></g>
<g id="n16-9" class="N"><ellipse cx="500" cy="842" rx="17.5" ry="21.5"/><text x="500" y="849">←</text></g>
<g id="n16-10" class="N"><ellipse cx="552" cy="842" rx="17.5" ry="21.5"/><text x="552" y="849">←</text></g>
<g id="n16-11" class="P"><ellipse cx="604" cy="842" rx="17.5" ry="21.5"/><text x="604" y="849">←</text></g>
<g id="n16-12" class="P"><ellipse cx="656" cy="842" rx="17.5" ry="21.5"/><text x="656" y="849">←</text></g>
<g id="n17-1" class="P"><ellipse cx="84" cy="894" rx="17.5" ry="21.5"/><text x="84" y="901">→</text></g>
<g id="n17-2" class="P"><ellipse cx="136" cy="894" rx="17.5" ry="21.5"/><text x="136" y="901">→</text></g>
<g id="n17-3" class="N"><ellipse cx="188" cy="894" rx="17.5" ry="21.5"/><text x="188" y="901">→</text></g>
<g id="n17-4" class="C"><ellipse cx="240" cy="894" rx="17.5" ry="21.5"/><text x="240" y="901">→</text></g>
<g id="n17-5" class="L"><ellipse cx="292" cy="894" rx="17.5" ry="21.5"/><text x="292" y="901">→</text></g>
<g id="n17-6" class="S"><ellipse cx="344" cy="894" rx="17.5" ry="21.5"/><text x="344" y="901">→</text></g>
<g id="n17-7" class="S"><ellipse cx="396" cy="894" rx="17.5" ry="21.5"/><text x="396" y="901">→</text></g>
<g id="n17-8" class="S"><ellipse cx="448" cy="894" rx="17.5" ry="21.5"/><text x="448" y="901">→</text></g>
<g id="n17-9" class="N"><ellipse cx="500" cy="894" rx="17.5" ry="21.5"/><text x="500" y="901">→</text></g>
<g id="n17-10" class="L"><ellipse cx="552" cy="894" rx="17.5" ry="21.5"/><text x="552" y="901">→</text></g>
<g id="n17-11" class="N"><ellipse cx="604" cy="894" rx="17.5" ry="21.5"/><text x="604" y="901">→</text></g>
<g id="n17-12" class="P"><ellipse cx="656" cy="894" rx="17.5" ry="21.5"/><text x="656" y="901">→</text></g>
<g id="n18-1" class="P"><ellipse cx="84" cy="946" rx="17.5" ry="21.5"/><text x="84" y="953">←</text></g>
<g id="n18-2" class="P"><ellipse cx="136" cy="946" rx="17.5" ry="21.5"/><text x="136" y="953">←</text></g>
<g id="n18-3" class="P"><ellipse cx="188" cy="946" rx="17.5" ry="21.5"/><text x="188" y="953">←</text></g>
<g id="n18-4" class="N"><ellipse cx="240" cy="946" rx="17.5" ry="21.5"/><text x="240" y="953">←</text></g>
<g id="n18-5" class="C"><ellipse cx="292" cy="946" rx="17.5" ry="21.5"/><text x="292" y="953">←</text></g>
<g id="n18-6" class="C"><ellipse cx="344" cy="946" rx="17.5" ry="21.5"/><text x="344" y="953">←</text></g>
<g id="n18-7" class="S"><ellipse cx="396" cy="946" rx="17.5" ry="21.5"/><text x="396" y="953">←</text></g>
<g id="n18-8" class="S"><ellipse cx="448" cy="946" rx="17.5" ry="21.5"/><text x="448" y="953">←</text></g>
<g id="n18-9" class="N"><ellipse cx="500" cy="946" rx="17.5" ry="21.5"/><text x="500" y="953">←</text></g>
<g id="n18-10" class="L"><ellipse cx="552" cy="946" rx="17.5" ry="21.5"/><text x="552" y="953">←</text></g>
<g id="n18-11" class="N"><ellipse cx="604" cy="946" rx="17.5" ry="21.5"/><text x="604" y="953">←</text></g>
<g id="n18-12" class="P"><ellipse cx="656" cy="946" rx="17.5" ry="21.5"/><text x="656" y="953">←</text></g>
<g id="n19-1" class="P"><ellipse cx="84" cy="998" rx="17.5" ry="21.5"/><text x="84" y="1005">→</text></g>
<g id="n19-2" class="P"><ellipse cx="136" cy="998" rx="17.5" ry="21.5"/><text x="136" y="1005">→</text></g>
<g id="n19-3" class="P"><ellipse cx="188" cy="998" rx="17.5" ry="21.5"/><text x="188" y="1005">→</text></g>
<g id="n19-4" class="N"><ellipse cx="240" cy="998" rx="17.5" ry="21.5"/><text x="240" y="1005">→</text></g>
<g id="n19-5" class="N"><ellipse cx="292" cy="998" rx="17.5" ry="21.5"/><text x="292" y="1005">→</text></g>
<g id="n19-6" class="L"><ellipse cx="344" cy="998" rx="17.5" ry="21.5"/><text x="344" y="1005">→</text></g>
<g id="n19-7" class="L"><ellipse cx="396" cy="998" rx="17.5" ry="21.5"/><text x="396" y="1005">→</text></g>
<g id="n19-8" class="S"><ellipse cx="448" cy="998" rx="17.5" ry="21.5"/><text x="448" y="1005">→</text></g>
<g id="n19-9" class="N"><ellipse cx="500" cy="998" rx="17.5" ry="21.5"/><text x="500" y="1005">→</text></g>
<g id="n19-10" class="S"><ellipse cx="552" cy="998" rx="17.5" ry="21.5"/><text x="552" y="1005">→</text></g>
<g id="n19-11" class="N"><ellipse cx="604" cy="998" rx="17.5" ry="21.5"/><text x="604" y="1005">→</text></g>
<g id="n19-12" class="P"><ellipse cx="656" cy="998" rx="17.5" ry="21.5"/><text x="656" y="1005">→</text></g>
<g id="n20-1" class="P"><ellipse cx="84" cy="1050" rx="17.5" ry="21.5"/><text x="84" y="1057">←</text></g>
<g id="n20-2" class="P"><ellipse cx="136" cy="1050" rx="17.5" ry="21.5"/><text x="136" y="1057">←</text></g>
<g id="n20-3" class="P"><ellipse cx="188" cy="1050" rx="17.5" ry="21.5"/><text x="188" y="1057">←</text></g>
<g id="n20-4" class="N"><ellipse cx="240" cy="1050" rx="17.5" ry="21.5"/><text x="240" y="1057">←</text></g>
<g id="n20-5" class="L"><ellipse cx="292" cy="1050" rx="17.5" ry="21.5"/><text x="292" y="1057">←</text></g>
<g id="n20-6" class="L"><ellipse cx="344" cy="1050" rx="17.5" ry="21.5"/><text x="344" y="1057">←</text></g>
<g id="n20-7" class="S"><ellipse cx="396" cy="1050" rx="17.5" ry="21.5"/><text x="396" y="1057">←</text></g>
<g id="n20-8" class="N"><ellipse cx="448" cy="1050" rx="17.5" ry="21.5"/><text x="448" y="1057">←</text></g>
<g id="n20-9" class="S"><ellipse cx="500" cy="1050" rx="17.5" ry="21.5"/><text x="500" y="1057">←</text></g>
<g id="n20-10" class="N"><ellipse cx="552" cy="1050" rx="17.5" ry="21.5"/><text x="552" y="1057">←</text></g>
<g id="n20-11" class="P"><ellipse cx="604" cy="1050" rx="17.5" ry="21.5"/><text x="604" y="1057">←</text></g>
<g id="n20-12" class="P"><ellipse cx="656" cy="1050" rx="17.5" ry="21.5"/><text x="656" y="1057">←</text></g>
<g id="n21-1" class="P"><ellipse cx="84" cy="1102" rx="17.5" ry="21.5"/><text x="84" y="1109">→</text></g>
<g id="n21-2" class="P"><ellipse cx="136" cy="1102" rx="17.5" ry="21.5"/><text x="136" y="1109">→</text></g>
<g id="n21-3" class="P"><ellipse cx="188" cy="1102" rx="17.5" ry="21.5"/><text x="188" y="1109">→</text></g>
<g id="n21-4" class="N"><ellipse cx="240" cy="1102" rx="17.5" ry="21.5"/><text x="240" y="1109">→</text></g>
<g id="n21-5" class="L"><ellipse cx="292" cy="1102" rx="17.5" ry="21.5"/><text x="292" y="1109">→</text></g>
<g id="n21-6" class="N"><ellipse cx="344" cy="1102" rx="17.5" ry="21.5"/><text x="344" y="1109">→</text></g>
<g id="n21-7" class="S"><ellipse cx="396" cy="1102" rx="17.5" ry="21.5"/><text x="396" y="1109">→</text></g>
<g id="n21-8" class="N"><ellipse cx="448" cy="1102" rx="17.5" ry="21.5"/><text x="448" y="1109">→</text></g>
<g id="n21-9" class="N"><ellipse cx="500" cy="1102" rx="17.5" ry="21.5"/><text x="500" y="1109">→</text></g>
<g id="n21-10" class="P"><ellipse cx="552" cy="1102" rx="17.5" ry="21.5"/><text x="552" y="1109">→</text></g>
<g id="n21-11" class="P"><ellipse cx="604" cy="1102" rx="17.5" ry="21.5"/><text x="604" y="1109">→</text></g>
<g id="n21-12" class="P"><ellipse cx="656" cy="1102" rx="17.5" ry="21.5"/><text x="656" y="1109">→</text></g>
<g id="n22-1" class="P"><ellipse cx="84" cy="1154" rx="17.5" ry="21.5"/><text x="84" y="1161">←</text></g>
<g id="n22-2" class="P"><ellipse cx="136" cy="1154" rx="17.5" ry="21.5"/><text x="136" y="1161">←</text></g>
<g id="n22-3" class="P"><ellipse cx="188" cy="1154" rx="17.5" ry="21.5"/><text x="188" y="1161">←</text></g>
<g id="n22-4" class="N"><ellipse cx="240" cy="1154" rx="17.5" ry="21.5"/><text x="240" y="1161">←</text></g>
<g id="n22-5" class="S"><ellipse cx="292" cy="1154" rx="17.5" ry="21.5"/><text x="292" y="1161">←</text></g>
<g id="n22-6" class="S"><ellipse cx="344" cy="1154" rx="17.5" ry="21.5"/><text x="344" y="1161">←</text></g>
<g id="n22-7" class="S"><ellipse cx="396" cy="1154" rx="17.5" ry="21.5"/><text x="396" y="1161">←</text></g>
<g id="n22-8" class="N"><ellipse cx="448" cy="1154" rx="17.5" ry="21.5"/><text x="448" y="1161">←</text></g>
<g id="n22-9" class="P"><ellipse cx="500" cy="1154" rx="17.5" ry="21.5"/><text x="500" y="1161">←</text></g>
<g id="n22-10" class="P"><ellipse cx="552" cy="1154" rx="17.5" ry="21.5"/><text x="552" y="1161">←</text></g>
<g id="n22-11" class="P"><ellipse cx="604" cy="1154" rx="17.5" ry="21.5"/><text x="604" y="1161">←</text></g>
<g id="n22-12" class="P"><ellipse cx="656" cy="1154" rx="17.5" ry="21.5"/><text x="656" y="1161">←</text></g>
<g id="n23-1" class="P"><ellipse cx="84" cy="1206" rx="17.5" ry="21.5"/><text x="84" y="1213">→</text></g>
<g id="n23-2" class="P"><ellipse cx="136" cy="1206" rx="17.5" ry="21.5"/><text x="136" y="1213">→</text></g>
<g id="n23-3" class="P"><ellipse cx="188" cy="1206" rx="17.5" ry="21.5"/><text x="188" y="1213">→</text></g>
<g id="n23-4" class="N"><ellipse cx="240" cy="1206" rx="17.5" ry="21.5"/><text x="240" y="1213">→</text></g>
<g id="n23-5" class="C"><ellipse cx="292" cy="1206" rx="17.5" ry="21.5"/><text x="292" y="1213">→</text></g>
<g id="n23-6" class="S"><ellipse cx="344" cy="1206" rx="17.5" ry="21.5"/><text x="344" y="1213">→</text></g>
<g id="n23-7" class="N"><ellipse cx="396" cy="1206" rx="17.5" ry="21.5"/><text x="396" y="1213">→</text></g>
<g id="n23-8" class="P"><ellipse cx="448" cy="1206" rx="17.5" ry="21.5"/><text x="448" y="1213">→</text></g>
<g id="n23-9" class="P"><ellipse cx="500" cy="1206" rx="17.5" ry="21.5"/><text x="500" y="1213">→</text></g>
<g id="n23-10" class="P"><ellipse cx="552" cy="1206" rx="17.5" ry="21.5"/><text x="552" y="1213">→</text></g>
<g id="n23-11" class="P"><ellipse cx="604" cy="1206" rx="17.5" ry="21.5"/><text x="604" y="1213">→</text></g>
<g id="n23-12" class="P"><ellipse cx="656" cy="1206" rx="17.5" ry="21.5"/><text x="656" y="1213">→</text></g>
<g id="n24-1" class="P"><ellipse cx="84" cy="1258" rx="17.5" ry="21.5"/><text x="84" y="1265">←</text></g>
<g id="n24-2" class="P"><ellipse cx="136" cy="1258" rx="17.5" ry="21.5"/><text x="136" y="1265">←</text></g>
<g id="n24-3" class="P"><ellipse cx="188" cy="1258" rx="17.5" ry="21.5"/><text x="188" y="1265">←</text></g>
<g id="n24-4" class="P"><ellipse cx="240" cy="1258" rx="17.5" ry="21.5"/><text x="240" y="1265">←</text></g>
<g id="n24-5" class="N"><ellipse cx="292" cy="1258" rx="17.5" ry="21.5"/><text x="292" y="1265">←</text></g>
<g id="n24-6" class="N"><ellipse cx="344" cy="1258" rx="17.5" ry="21.5"/><text x="344" y="1265">←</text></g>
<g id="n24-7" class="P"><ellipse cx="396" cy="1258" rx="17.5" ry="21.5"/><text x="396" y="1265">←</text></g>
<g id="n24-8" class="P"><ellipse cx="448" cy="1258" rx="17.5" ry="21.5"/><text x="448" y="1265">←</text></g>
<g id="n24-9" class="P"><ellipse cx="500" cy="1258" rx="17.5" ry="21.5"/><text x="500" y="1265">←</text></g>
<g id="n24-10" class="P"><ellipse cx="552" cy="1258" rx="17.5" ry="21.5"/><text x="552" y="1265">←</text></g>
<g id="n24-11" class="P"><ellipse cx="604" cy="1258" rx="17.5" ry="21.5"/><text x="604" y="1265">←</text></g>
<g id="n24-12" class="P"><ellipse cx="656" cy="1258" rx="17.5" ry="21.5"/><text x="656" y="1265">←</text></g>
<g id="n25-1" class="P"><ellipse cx="84" cy="1310" rx="17.5" ry="21.5"/><text x="84" y="1317">→</text></g>
<g id="n25-2" class="P"><ellipse cx="136" cy="1310" rx="17.5" ry="21.5"/><text x="136" y="1317">→</text></g>
<g id="n25-3" class="P"><ellipse cx="188" cy="1310" rx="17.5" ry="21.5"/><text x="188" y="1317">→</text></g>
<g id="n25-4" class="P"><ellipse cx="240" cy="1310" rx="17.5" ry="21.5"/><text x="240" y="1317">→</text></g>
<g id="n25-5" class="P"><ellipse cx="292" cy="1310" rx="17.5" ry="21.5"/><text x="292" y="1317">→</text></g>
<g id="n25-6" class="P"><ellipse cx="344" cy="1310" rx="17.5" ry="21.5"/><text x="344" y="1317">→</text></g>
<g id="n25-7" class="P"><ellipse cx="396" cy="1310" rx="17.5" ry="21.5"/><text x="396" y="1317">→</text></g>
<g id="n25-8" class="P"><ellipse cx="448" cy="1310" rx="17.5" ry="21.5"/><text x="448" y="1317">→</text></g>
<g id="n25-9" class="P"><ellipse cx="500" cy="1310" rx="17.5" ry="21.5"/><text x="500" y="1317">→</text></g>
<g id="n25-10" class="P"><ellipse cx="552" cy="1310" rx="17.5" ry="21.5"/><text x="552" y="1317">→</text></g>
<g id="n25-11" class="P"><ellipse cx="604" cy="1310" rx="17.5" ry="21.5"/><text x="604" y="1317">→</text></g>
<g id="n25-12" class="P"><ellipse cx="656" cy="1310" rx="17.5" ry="21.5"/><text x="656" y="1317">→</text></g>
</g>
<text id="watermark" class="wm" x="370" y="717">BRACELETBOOK.COM</text>
</svg>
